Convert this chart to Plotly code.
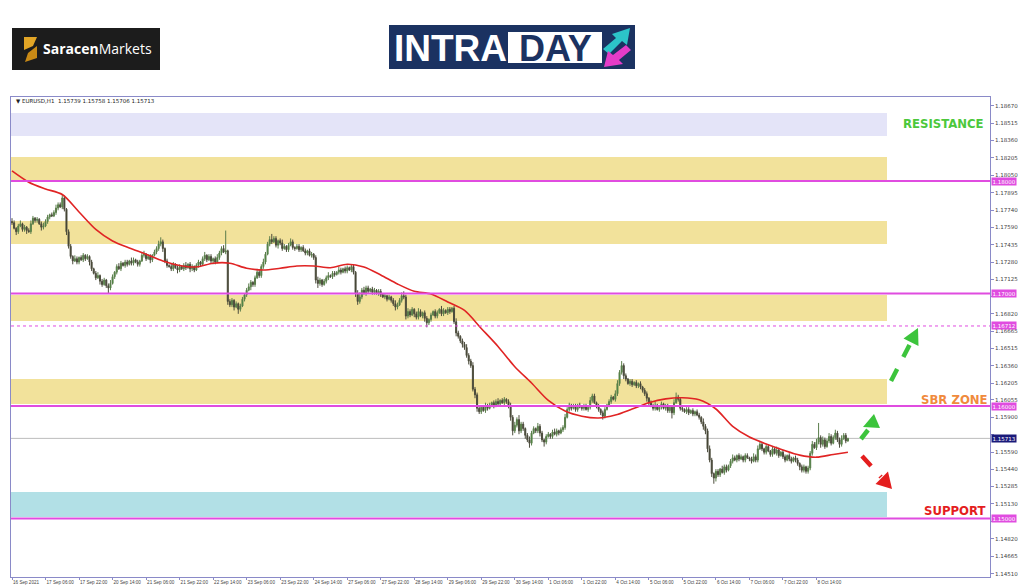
import plotly.graph_objects as go

# ---------------- data (prices in pips above 1.1000) ----------------
closes = [
    763, 758, 755, 760, 762, 757, 759, 756, 755, 762, 767, 765, 766, 762, 759, 760, 764, 768, 770, 769,
    772, 776, 779, 777, 785, 775, 755, 742, 733, 729, 731, 728, 732, 730, 734, 731, 733, 728, 722, 718,
    714, 716, 711, 708, 712, 707, 705, 709, 715, 719, 724, 722, 727, 725, 728, 726, 729, 727, 730, 728,
    726, 729, 734, 735, 731, 733, 730, 734, 737, 740, 744, 746, 740, 729, 725, 724, 722, 726, 723, 721,
    724, 722, 725, 723, 726, 722, 724, 721, 725, 728, 726, 731, 734, 730, 733, 729, 731, 728, 732, 736,
    740, 737, 738, 693, 690, 694, 688, 691, 686, 689, 695, 699, 703, 706, 710, 708, 714, 719, 716, 724,
    728, 735, 744, 748, 746, 749, 743, 747, 745, 740, 742, 739, 743, 746, 741, 740, 742, 739, 741, 738,
    736, 738, 734, 735, 732, 712, 709, 712, 708, 711, 714, 716, 715, 718, 717, 719, 721, 719, 722, 720,
    723, 721, 724, 719, 700, 693, 697, 703, 700, 705, 702, 704, 701, 703, 700, 702, 699, 697, 698, 695,
    697, 694, 691, 688, 690, 694, 698, 697, 680, 684, 681, 686, 682, 679, 684, 680, 683, 678, 674, 677,
    681, 684, 680, 683, 686, 682, 685, 683, 686, 684, 687, 675, 665, 662, 658, 655, 652, 645, 640, 636,
    615, 610, 598, 595, 599, 596, 600, 598, 601, 603, 600, 604, 602, 605, 603, 606, 604, 600, 590, 578,
    583, 588, 578, 584, 580, 574, 570, 567, 576, 580, 578, 582, 576, 570, 568, 573, 575, 573, 577, 575,
    578, 576, 579, 581, 590, 597, 601, 598, 600, 597, 601, 599, 598, 600, 597, 599, 605, 609, 603, 600,
    597, 594, 591, 597, 601, 604, 608, 606, 611, 620, 630, 636, 627, 624, 620, 622, 619, 621, 618, 620,
    617, 614, 611, 607, 603, 600, 598, 601, 597, 599, 602, 598, 600, 596, 599, 594, 603, 608, 606, 598,
    597, 595, 597, 594, 596, 593, 595, 592, 590, 586, 582, 578, 562, 552, 540, 536, 542, 539, 544, 541,
    546, 543, 547, 551, 554, 552, 556, 553, 555, 552, 556, 554, 553, 551, 555, 552, 562, 566, 562, 559,
    564, 560, 557, 562, 558, 561, 556, 559, 555, 552, 556, 553, 551, 554, 552, 549, 546, 543, 546, 542,
    545, 558, 566, 563, 568, 572, 566, 570, 564, 569, 573, 567, 572, 576, 570, 566, 571, 574, 569, 571.3,
]
hi_wick = [
    3, 2, 1, 2, 3, 1, 2, 1, 2, 3, 2, 1, 2, 1, 2, 3, 2, 2, 1, 2,
    2, 3, 2, 2, 3, 2, 1, 2, 2, 1, 3, 2, 1, 2, 2, 1, 2, 1, 2, 1,
    2, 3, 1, 2, 2, 1, 2, 3, 2, 1, 2, 3, 2, 1, 2, 2, 1, 3, 2, 1,
    2, 1, 2, 3, 1, 2, 2, 1, 2, 2, 3, 4, 2, 1, 2, 1, 3, 2, 1, 2,
    2, 1, 2, 3, 1, 2, 2, 1, 2, 2, 1, 2, 3, 1, 2, 2, 1, 2, 3, 2,
    2, 3, 18, 1, 2, 2, 1, 2, 1, 2, 2, 1, 2, 3, 2, 1, 2, 3, 2, 2,
    3, 2, 2, 3, 5, 2, 2, 1, 2, 3, 2, 1, 2, 3, 2, 1, 2, 2, 1, 2,
    2, 1, 2, 2, 1, 2, 3, 2, 1, 2, 2, 3, 1, 2, 2, 1, 3, 2, 1, 2,
    2, 1, 2, 2, 1, 3, 4, 2, 3, 2, 2, 1, 2, 2, 1, 2, 2, 1, 2, 1,
    2, 1, 2, 3, 2, 2, 3, 4, 2, 3, 2, 2, 1, 2, 3, 2, 1, 2, 2, 1,
    2, 1, 2, 2, 1, 3, 2, 1, 2, 2, 1, 2, 3, 2, 1, 2, 2, 3, 2, 2,
    3, 2, 2, 2, 1, 2, 3, 2, 2, 1, 2, 2, 3, 1, 2, 2, 1, 2, 3, 2,
    3, 2, 4, 2, 2, 1, 2, 3, 2, 2, 1, 3, 2, 2, 1, 2, 2, 1, 2, 3,
    2, 1, 2, 2, 3, 2, 2, 1, 2, 2, 1, 2, 1, 2, 2, 1, 3, 2, 2, 1,
    2, 1, 2, 2, 1, 2, 2, 1, 3, 3, 2, 4, 2, 2, 1, 2, 2, 1, 2, 1,
    2, 1, 2, 2, 1, 2, 2, 3, 1, 2, 2, 1, 2, 2, 1, 2, 3, 4, 2, 2,
    2, 1, 2, 2, 1, 2, 1, 2, 2, 1, 3, 2, 2, 3, 2, 1, 2, 2, 1, 3,
    2, 2, 1, 2, 3, 2, 1, 2, 2, 1, 2, 2, 1, 2, 3, 2, 3, 3, 2, 1,
    2, 2, 1, 2, 1, 3, 2, 1, 2, 2, 1, 2, 2, 1, 2, 2, 1, 2, 2, 1,
    2, 2, 3, 2, 3, 13, 2, 3, 2, 2, 3, 2, 2, 3, 2, 2, 3, 2, 2, 0.5,
]
lo_wick = [
    2, 1, 3, 2, 1, 2, 2, 3, 1, 2, 1, 2, 2, 1, 3, 2, 1, 2, 2, 1,
    1, 2, 2, 1, 2, 2, 3, 2, 2, 3, 1, 2, 2, 1, 2, 2, 1, 3, 2, 1,
    2, 1, 3, 2, 1, 2, 5, 2, 1, 2, 2, 1, 2, 1, 2, 2, 1, 2, 2, 1,
    2, 2, 1, 2, 2, 1, 3, 2, 1, 2, 2, 2, 3, 2, 2, 1, 2, 2, 1, 3,
    2, 1, 2, 2, 1, 3, 2, 2, 1, 2, 2, 1, 2, 2, 1, 2, 3, 2, 1, 2,
    2, 1, 2, 3, 2, 2, 3, 1, 4, 2, 1, 2, 2, 1, 3, 2, 2, 1, 2, 2,
    2, 2, 1, 2, 2, 1, 2, 3, 2, 2, 1, 2, 2, 1, 2, 2, 1, 2, 2, 1,
    2, 2, 1, 2, 2, 3, 4, 2, 2, 1, 2, 2, 1, 2, 2, 1, 2, 2, 1, 2,
    2, 1, 2, 2, 3, 3, 2, 2, 1, 2, 2, 1, 2, 2, 1, 2, 2, 1, 2, 2,
    1, 2, 2, 3, 2, 1, 2, 2, 3, 2, 2, 1, 3, 2, 2, 1, 2, 3, 4, 2,
    2, 1, 2, 2, 1, 2, 2, 1, 2, 2, 1, 2, 3, 2, 2, 3, 2, 2, 3, 2,
    2, 3, 3, 2, 2, 1, 2, 2, 1, 2, 2, 1, 2, 2, 1, 2, 2, 2, 3, 4,
    2, 2, 3, 2, 2, 3, 2, 4, 2, 1, 2, 2, 3, 2, 4, 2, 1, 2, 2, 1,
    2, 2, 1, 2, 2, 1, 2, 2, 1, 2, 2, 1, 2, 2, 1, 2, 2, 2, 1, 2,
    2, 2, 3, 2, 1, 2, 2, 1, 2, 2, 2, 2, 3, 2, 1, 2, 2, 1, 2, 2,
    2, 2, 2, 3, 2, 1, 2, 2, 1, 2, 2, 1, 2, 2, 2, 5, 2, 1, 2, 2,
    2, 1, 2, 2, 1, 2, 2, 1, 2, 2, 3, 3, 3, 2, 3, 5, 3, 2, 2, 1,
    2, 2, 1, 2, 2, 1, 2, 2, 1, 2, 2, 1, 2, 2, 1, 2, 2, 1, 2, 2,
    2, 1, 2, 2, 1, 2, 2, 1, 2, 2, 1, 2, 2, 1, 2, 2, 3, 2, 2, 2,
    2, 2, 2, 1, 2, 2, 3, 2, 2, 1, 2, 2, 1, 2, 2, 3, 2, 1, 2, 0.7,
]
# moving average (red line), sampled every 8 bars plus last bar
ma_values = [809, 799, 793, 788, 772.5, 757, 746.7, 740.5, 735, 729, 725, 723.6, 727, 727, 722.5,
             721, 722.5, 724.5, 724.5, 723, 726, 723.6, 716.5, 708.5, 702, 699.6, 692.5, 685, 669,
             653, 635, 620.5, 605, 595.6, 591, 589.4, 592, 597.4, 603, 606.4, 607.4, 605.6, 597.4,
             582, 572.5, 566.3, 561, 556.4, 554.6, 557, 559]

xtick_labels = ["16 Sep 2021", "17 Sep 06:00", "17 Sep 22:00", "20 Sep 14:00", "21 Sep 06:00",
                "21 Sep 22:00", "22 Sep 14:00", "23 Sep 06:00", "23 Sep 22:00", "24 Sep 14:00",
                "27 Sep 06:00", "27 Sep 22:00", "28 Sep 14:00", "29 Sep 06:00", "29 Sep 22:00",
                "30 Sep 14:00", "1 Oct 06:00", "1 Oct 22:00", "4 Oct 14:00", "5 Oct 06:00",
                "5 Oct 22:00", "6 Oct 14:00", "7 Oct 06:00", "7 Oct 22:00", "8 Oct 14:00"]
ytick_labels = ["1.18670", "1.18515", "1.18360", "1.18205", "1.18050", "1.17895", "1.17740",
                "1.17590", "1.17435", "1.17280", "1.17125", "1.16975", "1.16820", "1.16665",
                "1.16515", "1.16360", "1.16205", "1.16055", "1.15900", "1.15745", "1.15590",
                "1.15440", "1.15285", "1.15130", "1.14975", "1.14820", "1.14665", "1.14510"]

zone_low = [1.18401, 1.18010, 1.17441, 1.16757, 1.16019, 1.15014]
zone_high = [1.18605, 1.18214, 1.17646, 1.16988, 1.16241, 1.15236]
zone_colors = ["#e4e4f8", "#f2e29b", "#f2e29b", "#f2e29b", "#f2e29b", "#b2e0e6"]
level_lines = [1.18000, 1.17000, 1.16000, 1.15000]
dotted_level = 1.16712
last_price = 1.15713
header = "▼ EURUSD,H1  1.15739 1.15758 1.15706 1.15713"

# ---------------- derived ----------------
P = lambda v: 1.1 + v / 10000.0
n = len(closes)
idx = list(range(n))
opens = [closes[0] + 1] + closes[:-1]
close_p = [P(v) for v in closes]
open_p = [P(v) for v in opens]
high_p = [P(max(o, c) + h) for o, c, h in zip(opens, closes, hi_wick)]
low_p = [P(min(o, c) - l) for o, c, l in zip(opens, closes, lo_wick)]
ma_x = list(range(0, n, 8)) + [n - 1]
ma_y = [P(v) for v in ma_values]

badge_levels = level_lines + [dotted_level, last_price]
ytick_shown = [t if min(abs(float(t) - b) for b in badge_levels) > 0.0004 else "" for t in ytick_labels]

W, H = 1024, 587
L, R, T, B = 11, 990, 97, 577
bar_px = 2.095
first_px = 12
x_lo = (L - first_px) / bar_px
x_hi = (R - first_px) / bar_px
zone_end = (887 - first_px) / bar_px
y_lo, y_hi = 1.14481, 1.18747


def px(x):
    return (x - L) / (R - L)


def py(y):
    return (B - y) / (B - T)


fig = go.Figure()
fig.add_trace(go.Candlestick(
    x=idx, open=open_p, high=high_p, low=low_p, close=close_p,
    increasing=dict(line=dict(color="#5b7d4b", width=1), fillcolor="#2f9a2f"),
    decreasing=dict(line=dict(color="#4d4d3d", width=1), fillcolor="#2e2e20"),
    whiskerwidth=0, showlegend=False, hoverinfo="skip"))
fig.add_trace(go.Scatter(x=ma_x, y=ma_y, mode="lines",
                         line=dict(color="#e02424", width=1.6, shape="spline", smoothing=0.8),
                         showlegend=False, hoverinfo="skip"))

shapes = []
for lo, hi, col in zip(zone_low, zone_high, zone_colors):
    shapes.append(dict(type="rect", xref="x", yref="y", x0=x_lo, x1=zone_end, y0=lo, y1=hi,
                       fillcolor=col, line=dict(width=0), layer="below"))
for lv in level_lines:
    shapes.append(dict(type="line", xref="paper", yref="y", x0=0, x1=1, y0=lv, y1=lv,
                       line=dict(color="#e04ce0", width=2), layer="above"))
shapes.append(dict(type="line", xref="paper", yref="y", x0=0, x1=1, y0=dotted_level, y1=dotted_level,
                   line=dict(color="#e04ce0", width=1, dash="dot"), layer="above"))
shapes.append(dict(type="line", xref="paper", yref="y", x0=0, x1=1, y0=last_price, y1=last_price,
                   line=dict(color="#bcbcbc", width=1), layer="below"))


def poly(points, color):
    d = "M " + " L ".join(f"{px(a):.5f},{py(b):.5f}" for a, b in points) + " Z"
    return dict(type="path", xref="paper", yref="paper", path=d, fillcolor=color,
                line=dict(width=0), layer="above")


def seg(x0, y0, x1, y1, color, width, dash="dash"):
    return dict(type="line", xref="paper", yref="paper", x0=px(x0), y0=py(y0), x1=px(x1), y1=py(y1),
                line=dict(color=color, width=width, dash=dash), layer="above")


GREEN = "#3cc43c"
RED = "#e41e1e"
# arrows
shapes.append(seg(891, 381, 910, 344, GREEN, 4.5))
shapes.append(poly([(918, 328), (918.5, 346), (903.5, 338.5)], GREEN))
shapes.append(seg(861, 439, 868, 430, GREEN, 4.5))
shapes.append(poly([(874, 414), (863, 427), (880, 428)], GREEN))
shapes.append(seg(862, 456, 881, 477, RED, 4.5))
shapes.append(poly([(892, 489), (875.5, 484), (888, 471.5)], RED))

# logos
shapes.append(dict(type="rect", xref="paper", yref="paper", x0=px(12), x1=px(160), y0=py(70), y1=py(28),
                   fillcolor="#1c1c1c", line=dict(width=0)))
shapes.append(poly([(24, 37), (37, 37), (33, 46), (24, 50)], "#e2a526"))
shapes.append(poly([(37, 46), (37, 58), (25, 62), (28, 53)], "#c98a16"))
shapes.append(dict(type="rect", xref="paper", yref="paper", x0=px(389), x1=px(635), y0=py(69), y1=py(25),
                   fillcolor="#1b3261", line=dict(width=0)))
shapes.append(dict(type="rect", xref="paper", yref="paper", x0=px(508), x1=px(602), y0=py(63), y1=py(32),
                   fillcolor="#ffffff", line=dict(width=0)))
shapes.append(poly([(603, 49), (616, 38), (612, 34), (630, 28), (627, 45), (622, 41), (609, 54)], "#2cc4c8"))
shapes.append(poly([(631, 50), (619, 60), (623, 64), (604, 67), (608, 51), (613, 55), (626, 45)], "#e43cc8"))

ann = []


def text(x, y, s, size, color, anchor="center", family="Liberation Sans", yanchor="middle"):
    ann.append(dict(xref="paper", yref="paper", x=px(x), y=py(y), text=s, showarrow=False,
                    xanchor=anchor, yanchor=yanchor, font=dict(size=size, color=color, family=family)))


NARROW = "Liberation Sans Narrow, DejaVu Sans Condensed, Liberation Sans"
text(14, 101, header, 5.5, "#222222", anchor="left", family="DejaVu Sans")
text(943, 123, "<b>RESISTANCE</b>", 13, "#4cc83c", family=NARROW)
text(954, 399, "<b>SBR ZONE</b>", 13, "#f08a3c", family=NARROW)
text(954, 510, "<b>SUPPORT</b>", 13, "#e41e1e", family=NARROW)
# price badges on the axis
for lv in level_lines + [dotted_level]:
    ann.append(dict(xref="paper", yref="y", x=px(991), y=lv, text=f"{lv:.5f}", showarrow=False,
                    xanchor="left", yanchor="middle", bgcolor="#e04ce0", borderpad=0.5,
                    font=dict(size=5.5, color="#ffffff", family="DejaVu Sans")))
ann.append(dict(xref="paper", yref="y", x=px(991), y=last_price, text=f"{last_price:.5f}", showarrow=False,
                xanchor="left", yanchor="middle", bgcolor="#1a1a7a", borderpad=0.5,
                font=dict(size=5.5, color="#ffffff", family="DejaVu Sans")))
# logo texts
text(97, 49, "<b>Saracen</b>Markets", 14, "#ffffff", family="Open Sans, Liberation Sans")
text(450, 48, "<b>INTRA</b>", 37, "#ffffff", family="Liberation Sans")
text(555, 48, "<b>DAY</b>", 36, "#1b3261", family="Liberation Sans")

fig.update_layout(
    width=W, height=H, margin=dict(l=L, r=W - R, t=T, b=H - B, autoexpand=False),
    paper_bgcolor="#ffffff", plot_bgcolor="#ffffff",
    shapes=shapes, annotations=ann, showlegend=False,
    xaxis=dict(range=[x_lo, x_hi], rangeslider=dict(visible=False), showgrid=False, zeroline=False,
               automargin=False, tickangle=0,
               tickmode="array", tickvals=list(range(0, 16 * len(xtick_labels), 16)), ticktext=xtick_labels,
               ticks="outside", ticklen=2, tickcolor="#8a8ac8", ticklabelposition="outside right",
               tickfont=dict(size=4.6, color="#444444", family="Liberation Sans"),
               showline=True, linecolor="#8a8ac8", linewidth=1, mirror=True),
    yaxis=dict(range=[y_lo, y_hi], side="right", showgrid=False, zeroline=False, automargin=False,
               tickmode="array", tickvals=[float(t) for t in ytick_labels], ticktext=ytick_shown,
               ticks="outside", ticklen=3, tickcolor="#8a8ac8",
               tickfont=dict(size=5.5, color="#444444", family="DejaVu Sans"),
               showline=True, linecolor="#8a8ac8", linewidth=1, mirror=True),
)
fig.write_html("out.html", config={"displayModeBar": False},
               post_script="document.body.style.margin='0px';document.body.style.overflow='hidden';")
